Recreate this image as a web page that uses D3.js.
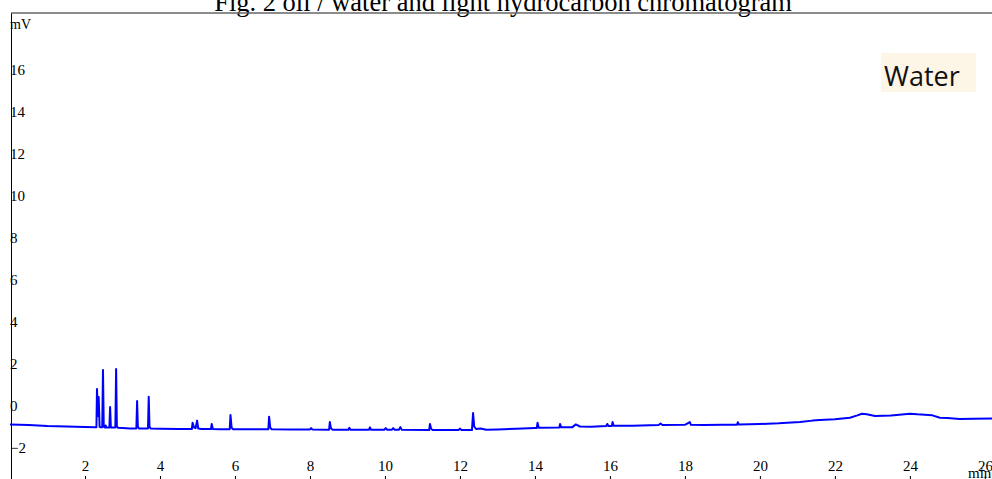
<!DOCTYPE html>
<html>
<head>
<meta charset="utf-8">
<script src="https://cdn.jsdelivr.net/npm/d3@7"></script>
<style>
  body { margin: 0; background: #fff; }
  svg { display: block; }
</style>
</head>
<body>
<div id="chart"></div>
<script>
// retention time (min) and detector signal (mV)
const rt = [0.0, 0.5, 1.0, 1.5, 2.0, 2.28,
  2.305, 2.32, 2.345, 2.365, 2.39, 2.42,
  2.46, 2.48, 2.50, 2.53, 2.55, 2.57,
  2.65, 2.67, 2.69,
  2.81, 2.83, 2.85, 2.88, 3.0, 3.2,
  3.37, 3.39, 3.41, 3.44,
  3.68, 3.70, 3.72, 3.75, 4.0, 4.5, 4.8,
  4.85, 4.87, 4.91, 4.95, 4.99, 5.02, 5.1,
  5.36, 5.38, 5.41, 5.6,
  5.86, 5.88, 5.91, 5.95, 6.4,
  6.89, 6.91, 6.94, 6.98, 7.5, 8.0, 8.03, 8.06,
  8.51, 8.53, 8.56, 8.6,
  9.02, 9.05, 9.08, 9.57, 9.6, 9.63,
  9.98, 10.02, 10.06, 10.18, 10.22, 10.26, 10.37, 10.41, 10.45,
  11.18, 11.2, 11.23, 11.27, 11.96, 12.0, 12.04, 12.2,
  12.32, 12.35, 12.38, 12.43, 12.55, 12.7, 13.0, 13.5, 14.0,
  14.05, 14.07, 14.1, 14.65, 14.67, 14.7,
  15.0, 15.09, 15.2, 15.5, 15.9, 15.93, 15.96,
  16.05, 16.07, 16.1, 16.6, 17.3, 17.35, 17.4,
  18.0, 18.13, 18.16, 18.5, 19.0, 19.39, 19.41, 19.44,
  20.0, 20.5, 21.07, 21.4, 21.6, 22.0, 22.4, 22.6, 22.72, 22.85, 23.07,
  23.5, 24.0, 24.2, 24.4, 24.6, 24.8, 25.0, 25.33, 25.7, 26.19];

const mv = [-0.90, -0.93, -0.98, -1.00, -1.02, -1.04,
  -1.04, 0.79, -0.50, 0.40, -1.02, -1.04,
  -1.04, 1.69, -1.00, -1.05, -0.95, -1.05,
  -1.05, -0.07, -1.05,
  -1.05, 1.74, -1.00, -1.06, -1.07, -1.09,
  -1.09, 0.21, -1.00, -1.10,
  -1.10, 0.42, -1.00, -1.10, -1.11, -1.12, -1.12,
  -1.12, -0.82, -1.05, -1.08, -0.72, -1.10, -1.12,
  -1.12, -0.88, -1.12, -1.13,
  -1.13, -0.45, -1.05, -1.13, -1.13,
  -1.13, -0.53, -1.05, -1.13, -1.14, -1.14, -1.08, -1.14,
  -1.15, -0.79, -1.08, -1.15,
  -1.16, -1.06, -1.16, -1.16, -1.04, -1.16,
  -1.16, -1.08, -1.16, -1.16, -1.08, -1.16, -1.16, -1.03, -1.16,
  -1.17, -0.88, -1.10, -1.17, -1.17, -1.10, -1.17, -1.17,
  -1.17, -0.36, -1.00, -1.12, -1.10, -1.15, -1.14, -1.11, -1.07,
  -1.07, -0.82, -1.06, -1.05, -0.88, -1.04,
  -1.03, -0.90, -1.00, -1.01, -0.98, -0.88, -0.98,
  -0.98, -0.79, -0.97, -0.96, -0.93, -0.86, -0.93,
  -0.92, -0.79, -0.92, -0.93, -0.92, -0.92, -0.80, -0.91,
  -0.88, -0.85, -0.79, -0.72, -0.69, -0.66, -0.58, -0.47, -0.39, -0.42, -0.50,
  -0.48, -0.39, -0.42, -0.44, -0.47, -0.58, -0.60, -0.64, -0.63, -0.62];

const xTicks = [2, 4, 6, 8, 10, 12, 14, 16, 18, 20, 22, 24, 26];
const yTicks = [-2, 0, 2, 4, 6, 8, 10, 12, 14, 16];

const title = "Fig. 2 oil / water and light hydrocarbon chromatogram";
const legendLabel = "Water";

const serif = "'Liberation Serif', 'Times New Roman', serif";
const width = 992, height = 479;

const svg = d3.select("#chart").append("svg")
    .attr("width", width)
    .attr("height", height);

const x = d3.scaleLinear().domain([0, 26.19]).range([10, 992]);
const y = d3.scaleLinear().domain([-3.5, 18.69]).range([479, 13]);

// title, cut at the top like the original
svg.append("text")
    .attr("x", 503)
    .attr("y", 11)
    .attr("text-anchor", "middle")
    .style("font-family", serif)
    .style("font-size", "26.5px")
    .attr("fill", "#000")
    .text(title);

// top frame line
svg.append("line")
    .attr("x1", 11).attr("x2", width)
    .attr("y1", 13).attr("y2", 13)
    .attr("stroke", "#666")
    .attr("stroke-width", 1.5);

// y axis, labels sit just right of the line
const yAxis = svg.append("g")
    .attr("transform", "translate(11,0)")
    .call(d3.axisRight(y).tickValues(yTicks).tickSize(0).tickPadding(-1).tickSizeOuter(0));
yAxis.select(".domain").attr("stroke", "#000");
yAxis.selectAll("text")
    .style("font-family", serif)
    .style("font-size", "15px")
    .attr("fill", "#000");

svg.append("text")
    .attr("x", 10)
    .attr("y", 29)
    .style("font-family", serif)
    .style("font-size", "14px")
    .text("mV");

// x axis sits at the bottom edge, ticks point up
const xAxis = svg.append("g")
    .attr("transform", "translate(0,480)")
    .call(d3.axisTop(x).tickValues(xTicks).tickSize(4).tickPadding(5).tickSizeOuter(0));
xAxis.select(".domain").remove();
xAxis.selectAll("line").attr("stroke", "#000");
xAxis.selectAll("text")
    .style("font-family", serif)
    .style("font-size", "15px")
    .attr("fill", "#000");

svg.append("text")
    .attr("x", 968)
    .attr("y", 478)
    .style("font-family", serif)
    .style("font-size", "15px")
    .text("min");

// chromatogram trace
const pts = rt.map((t, i) => [t, mv[i]]);
const line = d3.line()
    .x(d => x(d[0]))
    .y(d => y(d[1]));

svg.append("path")
    .datum(pts)
    .attr("d", line)
    .attr("fill", "none")
    .attr("stroke", "#0000ff")
    .attr("stroke-width", 2)
    .attr("stroke-linejoin", "round");

// legend box
svg.append("rect")
    .attr("x", 881).attr("y", 53)
    .attr("width", 95).attr("height", 39)
    .attr("fill", "#fdf5e6");

svg.append("text")
    .attr("x", 884)
    .attr("y", 86)
    .style("font-family", "'Open Sans', sans-serif")
    .style("font-size", "27px")
    .attr("fill", "#111")
    .text(legendLabel);
</script>
</body>
</html>
